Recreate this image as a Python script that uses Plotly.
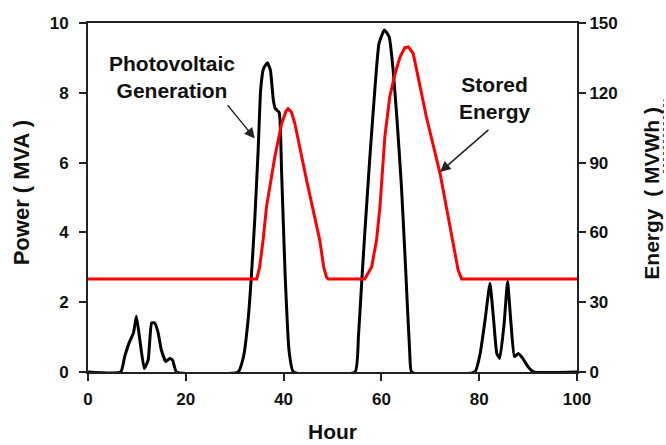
import plotly.graph_objects as go

# Photovoltaic generation (MVA) vs hour
pv_hour = [0, 6.7, 7.5, 8.5, 9.3, 9.9, 10.6, 11.5, 12.3, 13.0, 13.6, 14.3, 15.0, 15.9, 16.7, 17.3, 18.1,
           30.7, 31.8, 32.8, 33.4, 34.1, 34.8, 35.3, 35.9, 36.7, 37.3, 37.9, 38.3, 39.1, 39.6, 40.3, 41.1, 42.0,
           54.6, 55.3, 56.0, 56.6, 57.6, 58.7, 59.5, 60.6, 61.6, 62.4, 63.2, 64.1, 65.0, 65.8, 66.2,
           79.1, 80.2, 81.2, 82.2, 82.9, 83.6, 84.2, 85.1, 85.8, 86.5, 87.2, 88.0, 88.9, 90.0, 91.1, 100]
pv_power = [0, 0, 0.44, 0.87, 1.12, 1.6, 0.92, 0.1, 0.34, 1.4, 1.41, 1.15, 0.63, 0.3, 0.39, 0.34, 0,
            0, 0.44, 1.58, 2.73, 4.36, 6.36, 8.08, 8.7, 8.86, 8.65, 7.79, 7.55, 7.43, 5.69, 2.83, 0.63, 0,
            0, 1.01, 2.64, 3.97, 6.07, 8.17, 9.41, 9.8, 9.6, 8.65, 7.22, 5.31, 2.83, 0.54, 0,
            0, 0.53, 1.49, 2.54, 1.58, 0.53, 0.39, 1.39, 2.59, 1.39, 0.44, 0.53, 0.39, 0.15, 0, 0]

# Stored energy (MWh) vs hour
es_hour = [0, 34.5, 35.1, 35.8, 36.5, 38.2, 39.6, 40.5, 40.9, 41.6, 42.3, 44.7, 47.4, 48.2, 48.8, 49.1,
           56.6, 58.0, 59.0, 59.7, 60.7, 61.7, 62.8, 63.8, 64.8, 65.5, 66.5, 67.5, 69.2, 72.0, 74.7, 75.7, 76.4, 100]
es_energy = [40, 40, 45.1, 56.6, 70.9, 92.4, 106.8, 112.2, 113.2, 111.7, 106.8, 82.4, 56.6, 45.1, 40.6, 40,
             40, 45.1, 56.6, 70.9, 101, 118.2, 128.3, 135.4, 139.4, 139.7, 136.9, 126.8, 109.6, 85.3, 53.7, 43.7, 40, 40]

x_ticks = [0, 20, 40, 60, 80, 100]
y_ticks = [0, 2, 4, 6, 8, 10]
y2_ticks = [0, 30, 60, 90, 120, 150]

FONT = "Liberation Sans, Arial, sans-serif"
TXT = "#111111"

fig = go.Figure()
fig.add_trace(go.Scatter(x=pv_hour, y=pv_power, mode="lines",
                         line=dict(color="black", width=3, shape="spline", smoothing=0.4),
                         showlegend=False, hoverinfo="skip"))
fig.add_trace(go.Scatter(x=es_hour, y=es_energy, mode="lines", yaxis="y2",
                         line=dict(color="#ff0000", width=3, shape="linear"),
                         showlegend=False, hoverinfo="skip"))

axis_common = dict(showgrid=False, zeroline=False, showline=True, linecolor="#222222", linewidth=2,
                   ticks="outside", ticklen=7, tickwidth=2, tickcolor="#222222",
                   tickfont=dict(family=FONT, size=17, color=TXT, weight="bold"))

fig.update_layout(
    width=666, height=445,
    margin=dict(l=88, r=89, t=23, b=73),
    paper_bgcolor="white", plot_bgcolor="white",
    xaxis=dict(range=[0, 100], tickvals=x_ticks, mirror=True, ticklabelstandoff=4, **axis_common),
    yaxis=dict(range=[0, 10], tickvals=y_ticks, ticklabelstandoff=7, **axis_common),
    yaxis2=dict(range=[0, 150], tickvals=y2_ticks, overlaying="y", side="right",
                ticklabelstandoff=0, **axis_common),
)

anns = [
    dict(text="Photovoltaic<br>Generation", x=17.1, y=8.44, xref="x", yref="y", showarrow=False,
         xanchor="center", yanchor="middle",
         font=dict(family=FONT, size=21, color=TXT, weight="bold")),
    dict(text="Stored<br>Energy", x=83.2, y=7.84, xref="x", yref="y", showarrow=False,
         xanchor="center", yanchor="middle",
         font=dict(family=FONT, size=21, color=TXT, weight="bold")),
    dict(text="", x=34.1, y=6.69, ax=28.3, ay=7.69, xref="x", yref="y", axref="x", ayref="y",
         showarrow=True, arrowhead=2, arrowsize=1.4, arrowwidth=1.5, arrowcolor="#222222", standoff=0),
    dict(text="", x=72.0, y=86.0, ax=82.2, ay=104.6, xref="x", yref="y2", axref="x", ayref="y2",
         showarrow=True, arrowhead=2, arrowsize=1.4, arrowwidth=1.5, arrowcolor="#222222", standoff=0),
    dict(text="Hour", x=0.5, y=-0.17, xref="paper", yref="paper", showarrow=False,
         xanchor="center", yanchor="middle",
         font=dict(family=FONT, size=21, color=TXT, weight="bold")),
    dict(text="Power ( MVA )", x=-0.137, y=0.512, xref="paper", yref="paper", showarrow=False,
         xanchor="center", yanchor="middle",
         textangle=-90, font=dict(family=FONT, size=22, color=TXT, weight="bold")),
    dict(text="Energy  ( MVWh )", x=1.152, y=0.512, xref="paper", yref="paper", showarrow=False,
         xanchor="center", yanchor="middle",
         textangle=-90, font=dict(family=FONT, size=21, color=TXT, weight="bold")),
]
fig.update_layout(annotations=anns)

# spell-check squiggle under "MVWh"
fig.add_shape(type="line", xref="paper", yref="paper", x0=1.177, x1=1.177, y0=0.57, y1=0.78,
              line=dict(color="#ff0000", width=1, dash="dot"))

fig.write_html("out.html")
